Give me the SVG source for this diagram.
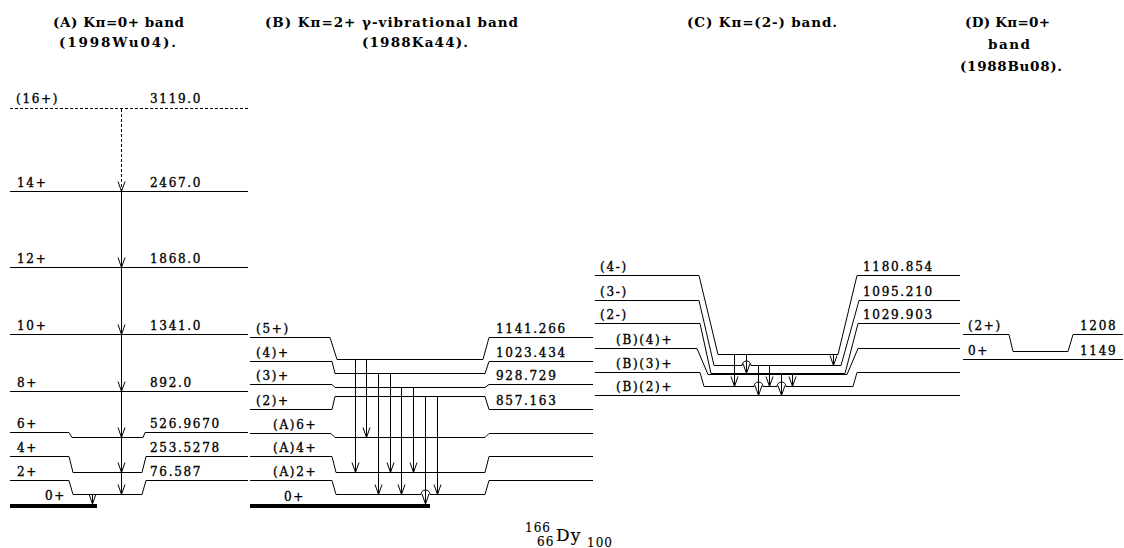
<svg xmlns="http://www.w3.org/2000/svg" width="1124" height="548" viewBox="0 0 1124 548">
<style>
.lv{fill:none;stroke:#000;stroke-width:1}
.ds{stroke-dasharray:3,2}
.gs{fill:none;stroke:#000;stroke-width:4}
.tr{fill:none;stroke:#000;stroke-width:1;marker-end:url(#ah)}
.hop{fill:none;stroke:#000;stroke-width:1}
.wh{stroke:#fff;stroke-width:2}
text{font-family:"DejaVu Serif","Liberation Serif",serif;fill:#000}
.lb{font-size:12px;letter-spacing:1.7px;stroke:#000;stroke-width:0.35px}
.tt{font-size:13.5px;font-weight:bold;text-anchor:middle}
.nu{stroke:#000;stroke-width:0.15px;letter-spacing:1px}
</style>
<defs>
<marker id="ah" markerUnits="userSpaceOnUse" markerWidth="12" markerHeight="10" refX="0" refY="0" orient="auto" overflow="visible">
<path d="M-10,-3.5L0,0L-10,3.5" fill="none" stroke="#000" stroke-width="1"/>
</marker>
</defs>
<rect width="1124" height="548" fill="#fff"/>

<g id="titles">
<text class="tt" x="118.5" y="27" textLength="131" lengthAdjust="spacing">(A) Kπ=0+ band</text>
<text class="tt" x="117.5" y="47" textLength="117" lengthAdjust="spacing">(1998Wu04).</text>
<text class="tt" x="391.5" y="27" textLength="253" lengthAdjust="spacing">(B) Kπ=2+ γ-vibrational band</text>
<text class="tt" x="415" y="47" textLength="106" lengthAdjust="spacing">(1988Ka44).</text>
<text class="tt" x="762" y="27" textLength="150" lengthAdjust="spacing">(C) Kπ=(2-) band.</text>
<text class="tt" x="1007.5" y="27" textLength="85" lengthAdjust="spacing">(D) Kπ=0+</text>
<text class="tt" x="1009" y="49" textLength="42" lengthAdjust="spacing">band</text>
<text class="tt" x="1011" y="71" textLength="102" lengthAdjust="spacing">(1988Bu08).</text>
</g>

<g id="bandA" class="lb">
<g id="A16"><path class="lv ds" d="M10,108.5H250"/><text x="16" y="103">(16+)</text><text x="150" y="103">3119.0</text></g>
<g id="A14"><path class="lv" d="M10,191.5H248"/><text x="17" y="187">14+</text><text x="150" y="187">2467.0</text></g>
<g id="A12"><path class="lv" d="M10,267.5H248"/><text x="17" y="263">12+</text><text x="150" y="263">1868.0</text></g>
<g id="A10"><path class="lv" d="M10,334.5H248"/><text x="17" y="330">10+</text><text x="150" y="330">1341.0</text></g>
<g id="A8"><path class="lv" d="M10,391.5H248"/><text x="17" y="387">8+</text><text x="150" y="387">892.0</text></g>
<g id="A6"><path class="lv" d="M10,432.5H69L72,437.5H143L145,432.5H248"/><text x="17" y="428">6+</text><text x="150" y="428">526.9670</text></g>
<g id="A4"><path class="lv" d="M10,456.5H69L73,472.5H142L146,456.5H248"/><text x="17" y="452">4+</text><text x="150" y="452">253.5278</text></g>
<g id="A2"><path class="lv" d="M10,480.5H69L73,494.5H142L146,480.5H248"/><text x="17" y="476">2+</text><text x="150" y="476">76.587</text></g>
<g id="A0"><path class="gs" d="M10,506H97"/><text x="45" y="500">0+</text></g>
</g>

<g id="bandB" class="lb">
<g id="B5"><path class="lv" d="M250,337.5H330L337,359.5H483L489,337.5H593"/><text x="256" y="333">(5+)</text><text x="496" y="333">1141.266</text></g>
<g id="B4"><path class="lv" d="M250,361.5H332L335,373.5H485L489,361.5H593"/><text x="256" y="357">(4)+</text><text x="496" y="357">1023.434</text></g>
<g id="B3"><path class="lv" d="M250,384.5H332L335,387.5H485L489,384.5H593"/><text x="256" y="380">(3)+</text><text x="496" y="380">928.729</text></g>
<g id="B2"><path class="lv" d="M250,409.5H332L335,396.5H485L489,409.5H593"/><text x="256" y="405">(2)+</text><text x="496" y="405">857.163</text></g>
<g id="BA6"><path class="lv" d="M250,433.5H331L335,437.5H485L489,433.5H593"/><text x="273" y="429">(A)6+</text></g>
<g id="BA4"><path class="lv" d="M250,456.5H332L336,472.5H485L489,456.5H593"/><text x="273" y="452">(A)4+</text></g>
<g id="BA2"><path class="lv" d="M250,480.5H332L336,494.5H485L489,480.5H593"/><text x="273" y="476">(A)2+</text></g>
<g id="B0"><path class="gs" d="M250,506H430"/><text x="284" y="501">0+</text></g>
</g>

<g id="bandC" class="lb">
<g id="C4"><path class="lv" d="M595,275.5H699L718,354.5H838L857,275.5H960"/><text x="600" y="271">(4-)</text><text x="863" y="271">1180.854</text></g>
<g id="C3"><path class="lv" d="M595,300.5H699L714,365.5H841L859,300.5H960"/><text x="600" y="296">(3-)</text><text x="863" y="296">1095.210</text></g>
<g id="C2"><path class="lv" d="M595,323.5H700L711,373.5H845L858,323.5H960"/><text x="600" y="319">(2-)</text><text x="863" y="319">1029.903</text></g>
<g id="CB4"><path class="lv" d="M595,348.5H697L708,374.5H847L858,348.5H960"/><text x="616" y="344">(B)(4)+</text></g>
<g id="CB3"><path class="lv" d="M595,372.5H700L704,386.5H853L857,372.5H960"/><text x="616" y="368">(B)(3)+</text></g>
<g id="CB2"><path class="lv" d="M595,395.5H960"/><text x="616" y="391">(B)(2)+</text></g>
</g>

<g id="bandD" class="lb">
<g id="D2"><path class="lv" d="M963,334.5H1009L1013,351.5H1068L1073,334.5H1123"/><text x="968" y="330">(2+)</text><text x="1080" y="330">1208</text></g>
<g id="D0"><path class="lv" d="M963,359.5H1123"/><text x="968" y="355">0+</text><text x="1080" y="355">1149</text></g>
</g>

<g id="connectors">
<path class="tr ds" d="M121.5,109V191.5"/>
<path class="tr" d="M121.5,191.5V267.5"/>
<path class="tr" d="M121.5,267.5V334.5"/>
<path class="tr" d="M121.5,334.5V391.5"/>
<path class="tr" d="M121.5,391.5V437.5"/>
<path class="tr" d="M121.5,437.5V472.5"/>
<path class="tr" d="M121.5,472.5V494.5"/>
<path class="tr" d="M92.5,494.5V504"/>

<path class="tr" d="M355.5,359.5V472.5"/>
<path class="tr" d="M366.5,359.5V437.5"/>
<path class="tr" d="M378.5,373.5V494.5"/>
<path class="tr" d="M390.5,373.5V472.5"/>
<path class="tr" d="M401.5,387.5V494.5"/>
<path class="tr" d="M413.5,387.5V472.5"/>
<path class="tr" d="M437.5,396.5V494.5"/>
<path class="wh" d="M421,494.5H430"/>
<path class="hop" d="M421,494.5A4.5,4.5 0 0 1 430,494.5"/>
<path class="tr" d="M425.5,396.5V504"/>

<path class="tr" d="M734.5,354.5V386.5"/>
<path class="wh" d="M742,365.5H751"/>
<path class="hop" d="M742,365.5A4.5,4.5 0 0 1 751,365.5"/>
<path class="tr" d="M746.5,354.5V373.5"/>
<path class="wh" d="M754,386.5H763"/>
<path class="hop" d="M754,386.5A4.5,4.5 0 0 1 763,386.5"/>
<path class="tr" d="M758.5,365.5V395.5"/>
<path class="tr" d="M769.5,365.5V386.5"/>
<path class="wh" d="M777,386.5H786"/>
<path class="hop" d="M777,386.5A4.5,4.5 0 0 1 786,386.5"/>
<path class="tr" d="M781.5,373.5V395.5"/>
<path class="tr" d="M792.5,373.5V386.5"/>
<path class="tr" d="M833.5,354.5V365.5"/>
</g>

<g id="nuclide">
<text class="nu" x="525" y="532" style="font-size:12px">166</text>
<text class="nu" x="537" y="546" style="font-size:12px">66</text>
<text class="nu" x="556" y="541" style="font-size:17px">Dy</text>
<text class="nu" x="587" y="547" style="font-size:12px">100</text>
</g>
</svg>
